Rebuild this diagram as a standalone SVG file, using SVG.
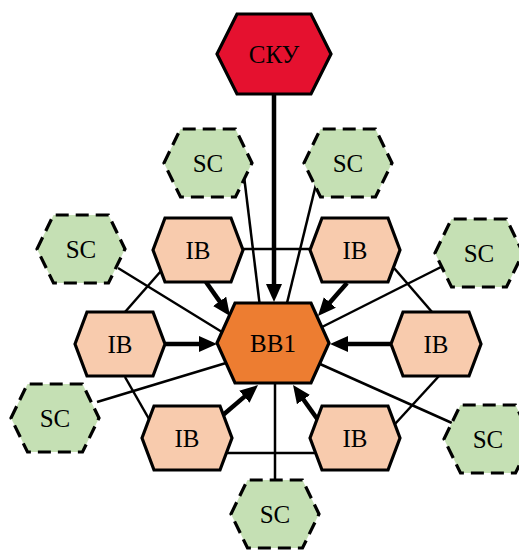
<svg xmlns="http://www.w3.org/2000/svg" width="519" height="551" viewBox="0 0 519 551">
<defs>
<style>
.sc{fill:#C5E0B4;stroke:#000;stroke-width:3.2;stroke-dasharray:13 7}
.ib{fill:#F8CBAD;stroke:#000;stroke-width:3.2;stroke-linejoin:miter}
.bb{fill:#ED7D31;stroke:#000;stroke-width:3.2}
.sku{fill:#E5112F;stroke:#000;stroke-width:3.2}
.lbl{font-family:"Liberation Serif","Times New Roman",serif;font-size:25px;fill:#000;text-anchor:middle}
.thin{stroke:#000;stroke-width:2.5;fill:none}
.thick{stroke:#000;stroke-width:4.5;fill:none;marker-end:url(#ah)}
</style>
<marker id="ah" markerUnits="userSpaceOnUse" markerWidth="20" markerHeight="18" refX="1" refY="8" orient="auto">
<path d="M0,0 L18,8 L0,16 z" fill="#000"/>
</marker>
</defs>
<rect width="519" height="551" fill="#fff"/>
<g id="connectors">
<line class="thin" x1="244" y1="176" x2="259.5" y2="303"/>
<line class="thin" x1="318" y1="176" x2="287" y2="303"/>
<line class="thin" x1="118" y1="268" x2="222" y2="332"/>
<line class="thin" x1="443" y1="266" x2="322" y2="327"/>
<line class="thin" x1="97" y1="402" x2="226" y2="363"/>
<line class="thin" x1="452" y1="423" x2="320" y2="364"/>
<line class="thin" x1="275" y1="383" x2="275" y2="482"/>
<line class="thin" x1="243" y1="249" x2="310" y2="249"/>
<line class="thin" x1="161" y1="271" x2="125" y2="312"/>
<line class="thin" x1="125" y1="377" x2="149" y2="419"/>
<line class="thin" x1="226" y1="453" x2="316" y2="453"/>
<line class="thin" x1="395" y1="424" x2="439" y2="376"/>
<line class="thin" x1="394" y1="268" x2="432" y2="312"/>
<line class="thick" x1="274" y1="94" x2="274" y2="285"/>
<line class="thick" x1="206" y1="282" x2="220.2" y2="302.1"/>
<line class="thick" x1="165" y1="344" x2="200" y2="344"/>
<line class="thick" x1="223" y1="415" x2="245.1" y2="396.1"/>
<line class="thick" x1="318" y1="420" x2="302.9" y2="398.8"/>
<line class="thick" x1="391" y1="344" x2="347" y2="344"/>
<line class="thick" x1="347" y1="283" x2="329.2" y2="303.2"/>
</g>
<g id="sku" transform="translate(274,54)">
<polygon class="sku" points="-57,0 -37,-40 37,-40 57,0 37,40 -37,40"/>
<text class="lbl" x="0" y="8.5">СКУ</text>
</g>
<g id="bb1" transform="translate(273,343)">
<polygon class="bb" points="-56,0 -38,-40 38,-40 56,0 38,40 -38,40"/>
<text class="lbl" x="0" y="8.5">BB1</text>
</g>
<g id="ib-tl" transform="translate(198,250)">
<polygon class="ib" points="-45,0 -33,-32 33,-32 45,0 33,32 -33,32"/>
<text class="lbl" x="0" y="8.5">IB</text>
</g>
<g id="ib-tr" transform="translate(355,250)">
<polygon class="ib" points="-45,0 -33,-32 33,-32 45,0 33,32 -33,32"/>
<text class="lbl" x="0" y="8.5">IB</text>
</g>
<g id="ib-l" transform="translate(120,344)">
<polygon class="ib" points="-45,0 -33,-32 33,-32 45,0 33,32 -33,32"/>
<text class="lbl" x="0" y="8.5">IB</text>
</g>
<g id="ib-r" transform="translate(436,344)">
<polygon class="ib" points="-45,0 -33,-32 33,-32 45,0 33,32 -33,32"/>
<text class="lbl" x="0" y="8.5">IB</text>
</g>
<g id="ib-bl" transform="translate(187,438)">
<polygon class="ib" points="-45,0 -33,-32 33,-32 45,0 33,32 -33,32"/>
<text class="lbl" x="0" y="8.5">IB</text>
</g>
<g id="ib-br" transform="translate(355,438)">
<polygon class="ib" points="-45,0 -33,-32 33,-32 45,0 33,32 -33,32"/>
<text class="lbl" x="0" y="8.5">IB</text>
</g>
<g id="sc-tl" transform="translate(208,163)">
<polygon class="sc" points="-44,0 -27.5,-34 27.5,-34 44,0 27.5,34 -27.5,34"/>
<text class="lbl" x="0" y="8.5">SC</text>
</g>
<g id="sc-tr" transform="translate(348,163)">
<polygon class="sc" points="-44,0 -27.5,-34 27.5,-34 44,0 27.5,34 -27.5,34"/>
<text class="lbl" x="0" y="8.5">SC</text>
</g>
<g id="sc-l" transform="translate(81,249)">
<polygon class="sc" points="-44,0 -27.5,-34 27.5,-34 44,0 27.5,34 -27.5,34"/>
<text class="lbl" x="0" y="8.5">SC</text>
</g>
<g id="sc-r" transform="translate(479,253)">
<polygon class="sc" points="-44,0 -27.5,-34 27.5,-34 44,0 27.5,34 -27.5,34"/>
<text class="lbl" x="0" y="8.5">SC</text>
</g>
<g id="sc-bl" transform="translate(55,418)">
<polygon class="sc" points="-44,0 -27.5,-34 27.5,-34 44,0 27.5,34 -27.5,34"/>
<text class="lbl" x="0" y="8.5">SC</text>
</g>
<g id="sc-br" transform="translate(488,439)">
<polygon class="sc" points="-44,0 -27.5,-34 27.5,-34 44,0 27.5,34 -27.5,34"/>
<text class="lbl" x="0" y="8.5">SC</text>
</g>
<g id="sc-b" transform="translate(275,514)">
<polygon class="sc" points="-44,0 -27.5,-34 27.5,-34 44,0 27.5,34 -27.5,34"/>
<text class="lbl" x="0" y="8.5">SC</text>
</g>
</svg>
